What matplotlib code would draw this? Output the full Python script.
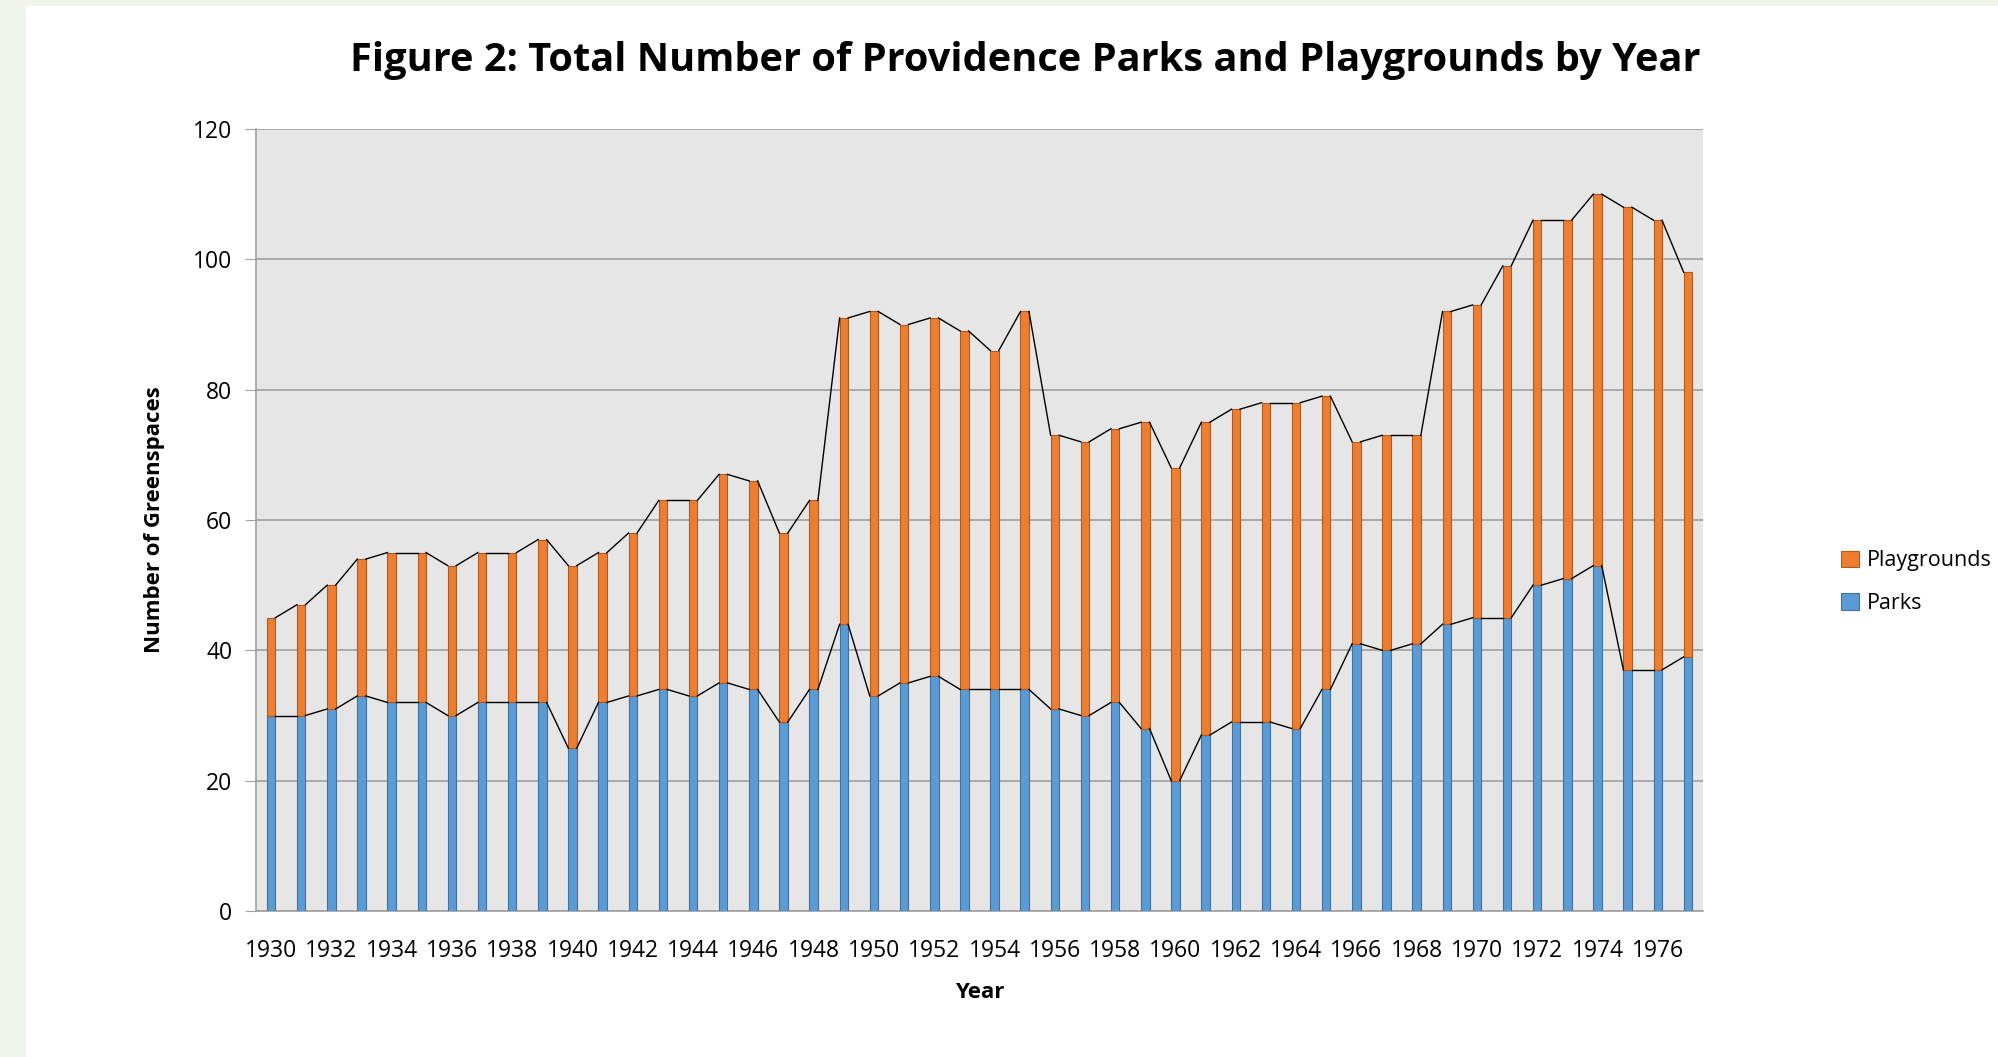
import numpy as np
import matplotlib
matplotlib.use("Agg")
import matplotlib.pyplot as plt
from matplotlib.patches import Rectangle

# Data
years = list(range(1930, 1978))
parks = [30, 30, 31, 33, 32, 32, 30, 32, 32, 32,
         25, 32, 33, 34, 33, 35, 34, 29, 34, 44,
         33, 35, 36, 34, 34, 34, 31, 30, 32, 28,
         20, 27, 29, 29, 28, 34, 41, 40, 41, 44,
         45, 45, 50, 51, 53, 37, 37, 39]
totals = [45, 47, 50, 54, 55, 55, 53, 55, 55, 57,
          53, 55, 58, 63, 63, 67, 66, 58, 63, 91,
          92, 90, 91, 89, 86, 92, 73, 72, 74, 75,
          68, 75, 77, 78, 78, 79, 72, 73, 73, 92,
          93, 99, 106, 106, 110, 108, 106, 98]
playgrounds = [t - p for t, p in zip(totals, parks)]
tick_years = years[::2]

plt.rcParams["font.family"] = ["Open Sans", "DejaVu Sans"]

fig = plt.figure(figsize=(19.99, 10.57), dpi=100)
fig.patch.set_facecolor("#EEF4EA")
# white chart area (green strip on the left and top)
fig.patches.append(Rectangle((26 / 1999, 0), 1 - 26 / 1999, 1 - 6 / 1057,
                             transform=fig.transFigure, facecolor="white",
                             edgecolor="none", zorder=-10))

ax = fig.add_axes([256 / 1999, 1 - 911 / 1057, (1703 - 256) / 1999, (911 - 129) / 1057])
ax.set_facecolor("#E6E6E6")

x = np.arange(len(years))
w = 0.28
ax.bar(x, parks, width=w, color="#5B9BD5", edgecolor="#41719C", linewidth=0.8,
       label="Parks", zorder=3)
ax.bar(x, playgrounds, width=w, bottom=parks, color="#ED7D31", edgecolor="#AE5A21",
       linewidth=0.8, label="Playgrounds", zorder=3)

# series lines joining the bar tops
for i in range(len(years) - 1):
    ax.plot([x[i] + w / 2, x[i + 1] - w / 2], [parks[i], parks[i + 1]],
            color="black", linewidth=1.0, zorder=4)
    ax.plot([x[i] + w / 2, x[i + 1] - w / 2], [totals[i], totals[i + 1]],
            color="black", linewidth=1.0, zorder=4)

ax.set_xlim(-0.5, len(years) - 0.5)
ax.set_ylim(0, 120)
ax.set_yticks(range(0, 121, 20))
ax.set_xticks(x[::2])
ax.set_xticklabels(tick_years)
ax.tick_params(axis="y", length=8, color="#A0A0A0", labelsize=16.5, pad=9)
ax.tick_params(axis="x", length=0, labelsize=16.5, pad=20)
ax.yaxis.grid(True, color="#A0A0A0", linewidth=1.2, zorder=1)
ax.set_axisbelow(True)
for side in ["top", "right"]:
    ax.spines[side].set_visible(False)
ax.spines["left"].set_color("#A0A0A0")
ax.spines["bottom"].set_color("#A0A0A0")
ax.spines["left"].set_linewidth(1.2)
ax.spines["bottom"].set_linewidth(1.2)

ax.set_xlabel("Year", fontsize=16, fontweight="bold", labelpad=14)
ax.set_ylabel("Number of Greenspaces", fontsize=16, fontweight="bold", labelpad=20)

fig.text(1025 / 1999, 1 - 61 / 1057,
         "Figure 2: Total Number of Providence Parks and Playgrounds by Year",
         ha="center", va="center", fontsize=28.6, fontweight="bold")

handles, labels = ax.get_legend_handles_labels()
fig.legend(handles[::-1], labels[::-1], loc="center left",
           bbox_to_anchor=(1822 / 1999, 1 - 582 / 1057), frameon=False,
           fontsize=15.5, handlelength=0.8, handleheight=0.8, handletextpad=0.4,
           labelspacing=1.0)

fig.savefig("out.png", dpi=100, facecolor=fig.get_facecolor())
